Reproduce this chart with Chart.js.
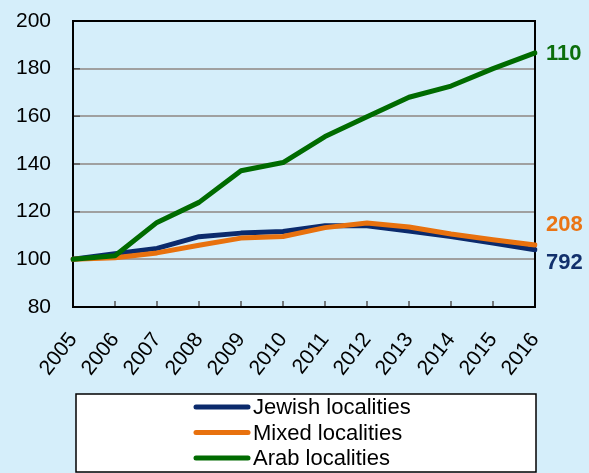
<!DOCTYPE html>
<html>
<head>
<meta charset="utf-8">
<script src="https://cdn.jsdelivr.net/npm/chart.js@4.4.0/dist/chart.umd.min.js"></script>
<style>
  html, body { margin: 0; padding: 0; background: #d5eefa; }
  #wrap { width: 589px; height: 473px; }
</style>
</head>
<body>
<div id="wrap"><canvas id="chart" width="589" height="473"></canvas></div>
<script>
const years = ['2005', '2006', '2007', '2008', '2009', '2010', '2011', '2012', '2013', '2014', '2015', '2016'];
const jewish = [100, 102.4, 104.6, 109.5, 111, 111.7, 114.1, 114.1, 111.9, 109.6, 106.8, 104];
const mixed = [100, 100.7, 102.7, 105.9, 108.9, 109.6, 113.3, 115.2, 113.6, 110.6, 108.2, 106];
const arab = [100, 101.5, 115.5, 123.9, 137.2, 140.6, 151.5, 159.8, 168, 172.7, 180, 186.6];
const seriesNames = ['Jewish localities', 'Mixed localities', 'Arab localities'];
const endLabels = ['792', '208', '110'];
const yMin = 80, yMax = 200, yStep = 20;

const FONT = '"Liberation Sans", Arial, sans-serif';

// frame, inward tick marks, end labels and the boxed legend
const decor = {
    id: 'decor',
    beforeDatasetsDraw(chart) {
        const { ctx, chartArea: a, scales: { x, y } } = chart;
        ctx.save();
        ctx.strokeStyle = '#555';
        ctx.lineWidth = 1.5;
        ctx.beginPath();
        x.ticks.forEach((t, i) => {
            const px = x.getPixelForTick(i);
            ctx.moveTo(px, a.bottom);
            ctx.lineTo(px, a.bottom - 6);
        });
        y.ticks.forEach((t, i) => {
            const py = y.getPixelForTick(i);
            ctx.moveTo(a.left, py);
            ctx.lineTo(a.left + 7, py);
        });
        ctx.stroke();
        ctx.strokeStyle = '#000';
        ctx.lineWidth = 2;
        ctx.strokeRect(a.left, a.top, a.right - a.left, a.bottom - a.top);
        ctx.restore();
    },
    afterDraw(chart) {
        const { ctx, chartArea: a, scales: { y } } = chart;
        ctx.save();
        // end labels
        ctx.font = 'bold 22px ' + FONT;
        ctx.textAlign = 'left';
        ctx.textBaseline = 'middle';
        chart.data.datasets.forEach(ds => {
            const last = ds.data[ds.data.length - 1];
            ctx.fillStyle = ds.endColor;
            ctx.fillText(ds.endLabel, a.right + 11, y.getPixelForValue(last) + ds.endDy);
        });

        // legend box
        const bx = 76, by = 394, bw = 460, bh = 78;
        ctx.fillStyle = '#fff';
        ctx.fillRect(bx, by, bw, bh);
        ctx.strokeStyle = '#000';
        ctx.lineWidth = 1.5;
        ctx.strokeRect(bx, by, bw, bh);
        ctx.font = '22px ' + FONT;
        ctx.textBaseline = 'middle';
        chart.data.datasets.forEach((ds, i) => {
            const ry = 407 + i * 25.5;
            ctx.strokeStyle = ds.borderColor;
            ctx.lineWidth = 5;
            ctx.lineCap = 'round';
            ctx.beginPath();
            ctx.moveTo(196, ry);
            ctx.lineTo(248, ry);
            ctx.stroke();
            ctx.fillStyle = '#000';
            ctx.fillText(ds.label, 253, ry + 1);
        });
        ctx.restore();
    }
};

const ctx = document.getElementById('chart').getContext('2d');
new Chart(ctx, {
    type: 'line',
    data: {
        labels: years,
        datasets: [{
            label: seriesNames[0],
            data: jewish,
            borderColor: '#0b2a6c',
            endColor: '#12306c',
            endLabel: endLabels[0],
            endDy: 13,
            order: 3
        }, {
            label: seriesNames[1],
            data: mixed,
            borderColor: '#e8710e',
            endColor: '#ea7414',
            endLabel: endLabels[1],
            endDy: -20,
            order: 2
        }, {
            label: seriesNames[2],
            data: arab,
            borderColor: '#006b00',
            endColor: '#0c6e0c',
            endLabel: endLabels[2],
            endDy: 1,
            order: 1
        }]
    },
    options: {
        responsive: false,
        animation: false,
        layout: { padding: { left: 0, top: 21, right: 54, bottom: 0 } },
        elements: {
            point: { radius: 0 },
            line: { borderWidth: 5, tension: 0, borderCapStyle: 'round', borderJoinStyle: 'round' }
        },
        plugins: {
            legend: { display: false },
            tooltip: { enabled: false }
        },
        scales: {
            x: {
                offset: false,
                grid: { display: false },
                border: { display: false },
                ticks: {
                    autoSkip: false,
                    minRotation: 52,
                    maxRotation: 52,
                    padding: 13,
                    color: '#000',
                    font: { family: FONT, size: 21 }
                },
                afterFit(scale) {
                    scale.height = 166;
                    scale.paddingLeft = 0; scale.paddingRight = 0;
                    scale.paddingTop = 0; scale.paddingBottom = 0;
                }
            },
            y: {
                min: yMin,
                max: yMax,
                grid: { color: '#a0a0a0', lineWidth: 2, drawTicks: false },
                border: { display: false },
                ticks: {
                    stepSize: yStep,
                    padding: 22,
                    color: '#000',
                    font: { family: FONT, size: 21 }
                },
                afterFit(scale) {
                    scale.width = 73;
                    scale.paddingLeft = 0; scale.paddingRight = 0;
                    scale.paddingTop = 0; scale.paddingBottom = 0;
                }
            }
        }
    },
    plugins: [decor]
});
</script>
</body>
</html>
